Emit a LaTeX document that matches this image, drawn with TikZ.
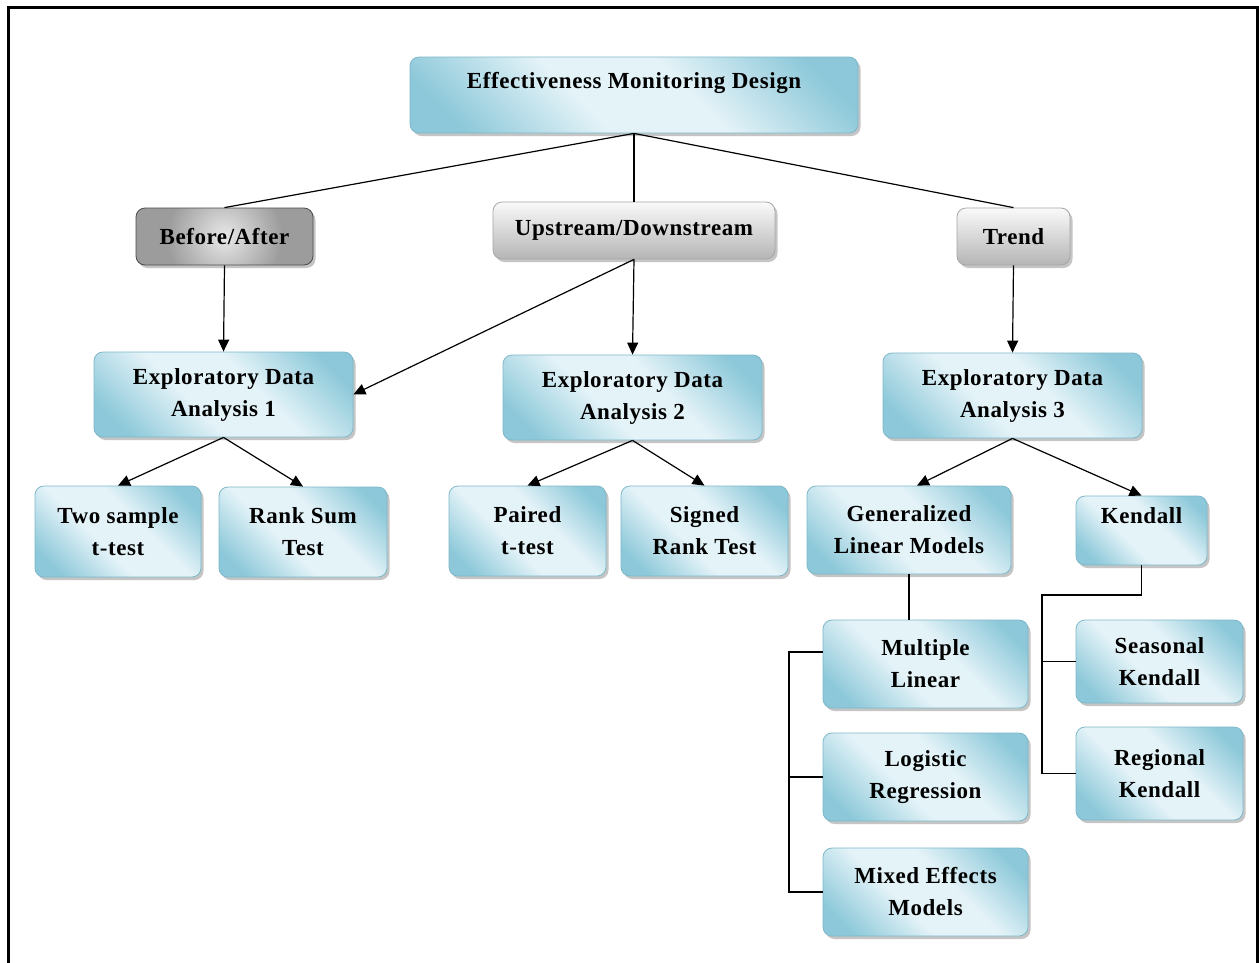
\documentclass[tikz,border=0pt]{standalone}
\usepackage{fontspec}
\setmainfont{Liberation Serif}[LetterSpace=2.5]
\usetikzlibrary{shadows,arrows.meta,calc}
\definecolor{bluein}{HTML}{E4F3F8}
\definecolor{blueout}{HTML}{8CC8D9}
\definecolor{blueedge}{HTML}{7DB8C8}
\pgfdeclarehorizontalshading{bluediag}{100bp}{color(0bp)=(blueout); color(22bp)=(blueout); color(42bp)=(bluein); color(58bp)=(bluein); color(78bp)=(blueout); color(100bp)=(blueout)}
\tikzset{
  box/.style={rounded corners=9pt, draw=blueedge, line width=0.8pt,
    shading=bluediag, shading angle=45, align=center,
    font=\bfseries\fontsize{23}{32}\selectfont,
    drop shadow={shadow xshift=2.5pt, shadow yshift=-3pt, fill=black!45, opacity=0.5}},
  graybox/.style={box, draw=gray!70, shading=axis, shading angle=0, top color=gray!4, bottom color=gray!58},
  darkbox/.style={box, draw=gray!60!black, shading=radial, inner color=gray!18, outer color=gray!78},
  conn/.style={draw=black, line width=1.2pt},
  arr/.style={conn, -{Triangle[length=12pt,width=11pt]}},
}
\begin{document}
\begin{tikzpicture}[x=1pt,y=-1pt]
\useasboundingbox (0,0) rectangle (1259,962);
\fill[white] (0,0) rectangle (1259,962);
% frame
\draw[line width=2.2pt] (8.5,975) -- (8.5,7.5) -- (1257.5,7.5) -- (1257.5,975);

\node[box, minimum width=448pt, minimum height=76pt, text depth=30pt] (top) at (634,95) {Effectiveness Monitoring Design};
\node[darkbox, minimum width=177pt, minimum height=57pt] (ba) at (224.5,236.5) {Before/After};
\node[graybox, minimum width=282pt, minimum height=57pt] (ud) at (634,230.5) {Upstream/Downstream};
\node[graybox, minimum width=113pt, minimum height=57pt] (tr) at (1013.5,236.5) {Trend};

\node[box, minimum width=259pt, minimum height=85pt] (e1) at (223.5,394.5) {Exploratory Data\\Analysis 1};
\node[box, minimum width=259pt, minimum height=85pt] (e2) at (632.5,397.5) {Exploratory Data\\Analysis 2};
\node[box, minimum width=259pt, minimum height=85pt] (e3) at (1012.5,395.5) {Exploratory Data\\Analysis 3};

\node[box, minimum width=166pt, minimum height=91pt] (ts) at (118,531.5) {Two sample\\t-test};
\node[box, minimum width=168pt, minimum height=90pt] (rs) at (303,532) {Rank Sum\\Test};
\node[box, minimum width=157pt, minimum height=90pt] (pt) at (527.5,531) {Paired\\t-test};
\node[box, minimum width=167pt, minimum height=90pt] (sr) at (704.5,531) {Signed\\Rank Test};
\node[box, minimum width=204pt, minimum height=88pt] (glm) at (909,530) {Generalized\\Linear Models};
\node[box, minimum width=131pt, minimum height=69pt, text depth=30pt] (ken) at (1141.5,530.5) {Kendall};

\node[box, minimum width=205pt, minimum height=88pt] (ml) at (925.5,664) {Multiple\\Linear};
\node[box, minimum width=205pt, minimum height=88pt] (lr) at (925.5,777) {Logistic\\Regression};
\node[box, minimum width=205pt, minimum height=88pt] (me) at (925.5,892) {Mixed Effects\\Models};
\node[box, minimum width=167pt, minimum height=83pt] (sk) at (1159.5,661.5) {Seasonal\\Kendall};
\node[box, minimum width=167pt, minimum height=93pt] (rk) at (1159.5,773.5) {Regional\\Kendall};

% connectors
\draw[conn] (top.south) -- (ba.north);
\draw[conn] (top.south) -- (ud.north);
\draw[conn] (top.south) -- (tr.north);
\draw[arr] (ba.south) -- (e1.north);
\draw[arr] (ud.south) -- (e2.north);
\draw[arr] (ud.south) -- (e1.east);
\draw[arr] (tr.south) -- (e3.north);
\draw[arr] (e1.south) -- (ts.north);
\draw[arr] (e1.south) -- (rs.north);
\draw[arr] (e2.south) -- (pt.north);
\draw[arr] (e2.south) -- (sr.north);
\draw[arr] (e3.south) -- ([xshift=8pt]glm.north);
\draw[arr] (e3.south) -- (ken.north);
\draw[conn] (glm.south) -- (glm.south |- ml.north);
\coordinate (bx) at (789,652);
\draw[conn] ([yshift=12pt]ml.west) -- (bx) |- (me.west);
\draw[conn] (lr.west) -- (lr.west -| bx);
\coordinate (kx) at (1042,595);
\draw[conn] (ken.south) |- (kx) |- (rk.west);
\draw[conn] (sk.west) -- (sk.west -| kx);
\end{tikzpicture}
\end{document}
